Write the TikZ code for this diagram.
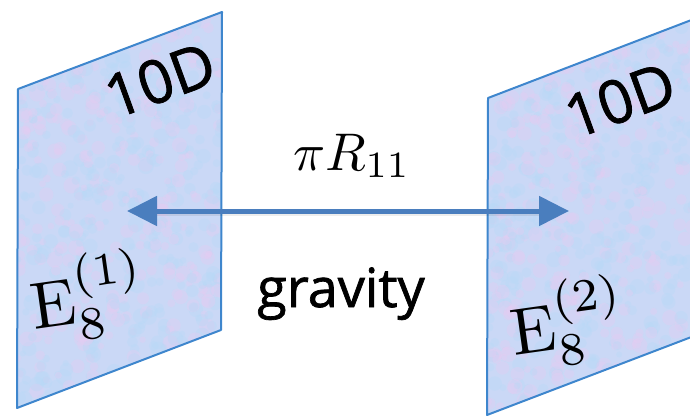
\documentclass[tikz,border=0pt]{standalone}
\usepackage{fontspec}
\newfontfamily\gillfont[FakeBold=1.3]{Open Sans}
\usetikzlibrary{arrows.meta}
\definecolor{planefill}{RGB}{202,216,246}
\definecolor{planeedge}{RGB}{62,134,205}
\definecolor{arrowblue}{RGB}{74,126,190}
\definecolor{dotpink}{RGB}{230,204,242}
\definecolor{dotblue}{RGB}{184,216,246}
\tikzset{
  plane/.style={fill=planefill},
  planeborder/.style={draw=planeedge, line width=2pt, line join=round},
  tenD/.style={font=\gillfont\fontsize{60}{60}\selectfont, rotate=20, inner sep=0pt},
  esym/.style={scale=6.6, rotate=8, inner sep=0pt},
  biarrow/.style={draw=arrowblue, line width=5pt, {Triangle[length=30pt,width=29pt]}-{Triangle[length=30pt,width=29pt]}},
  arrowshadow/.style={draw=black, opacity=0.07, line width=5pt},
}
\newcommand{\texturedots}[4]{%
  \foreach \i in {1,...,700} {
    \pgfmathsetmacro{\xx}{#1+rnd*(#2-#1)}
    \pgfmathsetmacro{\yy}{#3+rnd*(#4-#3)}
    \pgfmathsetmacro{\cc}{rnd}
    \pgfmathsetmacro{\rr}{3+rnd*5}
    \ifdim\cc pt<0.45pt
      \fill[dotpink, opacity=0.35] (\xx,\yy) circle (\rr pt);
    \else
      \fill[dotblue, opacity=0.35] (\xx,\yy) circle (\rr pt);
    \fi
  }%
}
\begin{document}
\begin{tikzpicture}[x=1pt, y=-1pt]
\useasboundingbox (0,0) rectangle (690,417);
\clip (0,0) rectangle (690,417);
\pgfmathsetseed{11}
% left plane
\coordinate (l1) at (18,89);
\coordinate (l2) at (222,12);
\coordinate (l3) at (221,330);
\coordinate (l4) at (17,408);
\fill[plane] (l1) -- (l2) -- (l3) -- (l4) -- cycle;
\begin{scope}
  \clip (l1) -- (l2) -- (l3) -- (l4) -- cycle;
  \texturedots{17}{222}{12}{408}
\end{scope}
\draw[planeborder] (l1) -- (l2) -- (l3) -- (l4) -- cycle;
% right plane
\coordinate (r1) at (488,98);
\coordinate (r2) at (694,19);
\coordinate (r3) at (694,336);
\coordinate (r4) at (487,415);
\fill[plane] (r1) -- (r2) -- (r3) -- (r4) -- cycle;
\begin{scope}
  \clip (r1) -- (r2) -- (r3) -- (r4) -- cycle;
  \texturedots{487}{694}{19}{415}
\end{scope}
\draw[planeborder] (r1) -- (r2) -- (r3) -- (r4) -- cycle;
% labels
\node[tenD] (tl) at (160,80) {10D};
\node[tenD] (tr) at (620,100) {10D};
\node[esym, anchor=base west] (el) at (33,330) {$\mathrm{E}_8^{(1)}$};
\node[esym, anchor=base west] (er) at (513,356) {$\mathrm{E}_8^{(2)}$};
\node[scale=5.3, inner sep=0pt, anchor=base] (pr) at (352,170) {$\pi R_{11}$};
\node[font=\gillfont\fontsize{54}{54}\selectfont, inner sep=0pt, anchor=base] (gr) at (341,307) {gravity};
% arrow
\coordinate (al) at (127,211);
\coordinate (ar) at (569,211);
\coordinate (sl) at (155,213);
\coordinate (sr) at (541,213);
\draw[arrowshadow] (sl) -- (sr);
\draw[biarrow] (al) -- (ar);
\end{tikzpicture}
\end{document}
